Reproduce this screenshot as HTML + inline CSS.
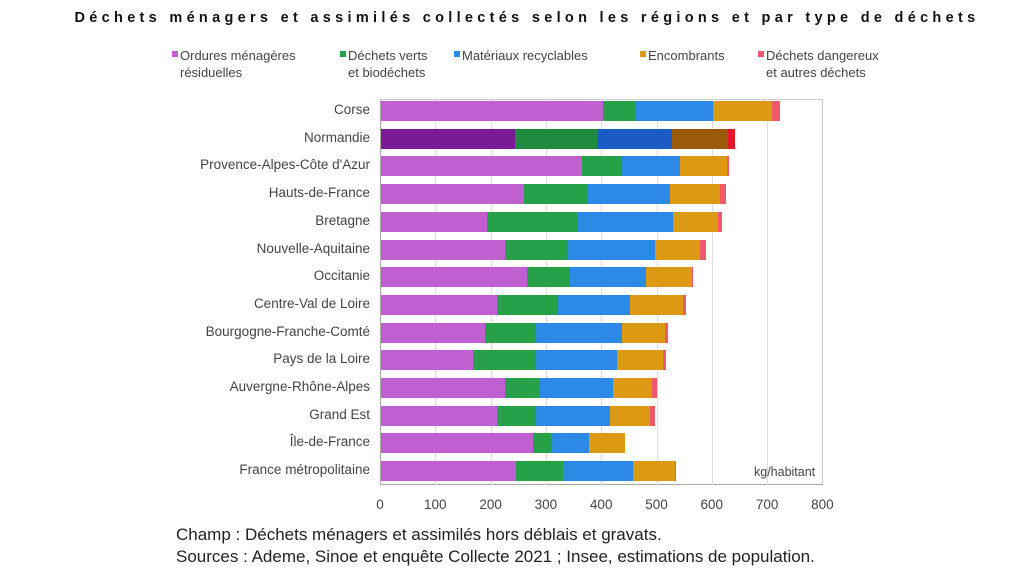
<!DOCTYPE html>
<html><head><meta charset="utf-8"><style>
body{margin:0;width:1024px;height:579px;background:#fff;position:relative;overflow:hidden;font-family:"Liberation Sans",sans-serif;color:#333}
.a{position:absolute}
.t{top:10px;left:0;width:1054px;text-align:center;font-weight:bold;font-size:14.5px;letter-spacing:4.3px;color:#111}
.lg{font-size:13px;color:#444;line-height:17px}
.sq{width:6px;height:6px;position:absolute;left:-8px;top:4px}
.lab{right:654px;font-size:13.5px;color:#444;text-align:right;white-space:nowrap}
.g{top:99px;height:386px;width:1px;background:#ddd}
.b{height:20px}
.tk{top:497px;font-size:13.5px;color:#444;width:40px;text-align:center}
.ft{left:176px;font-size:17px;color:#222;white-space:nowrap}
</style></head><body>
<div class="a t">Déchets ménagers et assimilés collectés selon les régions et par type de déchets</div>
<div class="a lg" style="left:180px;top:47px"><div class="sq" style="background:#c05fd0"></div>Ordures ménagères<br>résiduelles</div>
<div class="a lg" style="left:348px;top:47px"><div class="sq" style="background:#27a04a"></div>Déchets verts<br>et biodéchets</div>
<div class="a lg" style="left:462px;top:47px"><div class="sq" style="background:#2c8ae6"></div>Matériaux recyclables</div>
<div class="a lg" style="left:648px;top:47px"><div class="sq" style="background:#dc9a14"></div>Encombrants</div>
<div class="a lg" style="left:766px;top:47px"><div class="sq" style="background:#ee5a6a"></div>Déchets dangereux<br>et autres déchets</div>
<div class="a" style="left:380px;top:99px;width:443px;height:386px;border:1px solid #ccc;border-left:1px solid #aaa;border-bottom:1px solid #aaa;box-sizing:border-box"></div>
<div id="grid"></div>
<div id="bars"></div>
<div class="a" style="left:754px;top:465px;font-size:12.5px;color:#444">kg/habitant</div>
<div class="a ft" style="top:525px">Champ : Déchets ménagers et assimilés hors déblais et gravats.</div>
<div class="a ft" style="top:547px">Sources : Ademe, Sinoe et enquête Collecte 2021 ; Insee, estimations de population.</div>
<script>
var h='';
for(var i=0;i<=8;i++){var x=380+i*55.3;if(i>0&&i<8)h+='<div class="a g" style="left:'+x+'px"></div>';h+='<div class="a tk" style="left:'+(x-20)+'px">'+(i*100)+'</div>';}
document.getElementById('grid').innerHTML=h;
var rows=[
["Corse",[603,636,713,772,780]],
["Normandie",[515,598,672,728,735]],
["Provence-Alpes-Côte d'Azur",[582,622,680,727,729]],
["Hauts-de-France",[524,588,670,720,726]],
["Bretagne",[487,578,673,718,722]],
["Nouvelle-Aquitaine",[505,567,655,700,706]],
["Occitanie",[527,570,646,692,693]],
["Centre-Val de Loire",[497,558,630,683,686]],
["Bourgogne-Franche-Comté",[485,535,622,665,668]],
["Pays de la Loire",[473,535,617,663,666]],
["Auvergne-Rhône-Alpes",[505,540,613,652,657]],
["Grand Est",[497,535,610,650,655]],
["Île-de-France",[533,551,589,625]],
["France métropolitaine",[516,563,633,675,676]]];
var c=["#c05fd0","#27a04a","#2c8ae6","#dc9a14","#ee5a6a"];
var cd=["#7a1a94","#1f8a40","#1a5cc4","#9a5a0a","#e01a28"];
var b='';
rows.forEach(function(r,i){var y=101+i*27.7;var cols=i==1?cd:c;
b+='<div class="a lab" style="top:'+(y+1)+'px;right:654px">'+r[0]+'</div>';
var s=381;r[1].forEach(function(e,j){b+='<div class="a b" style="top:'+y+'px;left:'+s+'px;width:'+(e-s)+'px;background:'+cols[j]+'"></div>';s=e;});});
document.getElementById('bars').innerHTML=b;
</script>
</body></html>
